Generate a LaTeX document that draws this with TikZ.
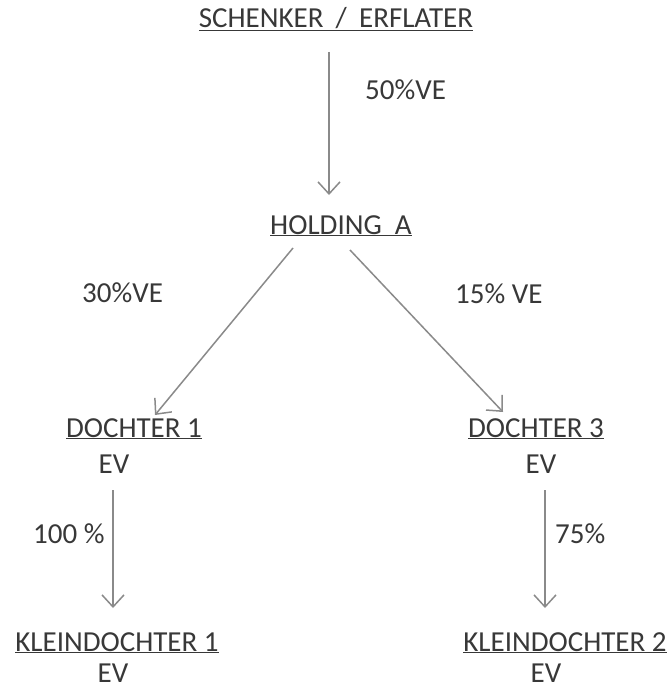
\documentclass[tikz,border=0pt]{standalone}
\usepackage{fontspec}
\setmainfont{Carlito}
\usetikzlibrary{arrows.meta}
\definecolor{inkgray}{HTML}{383838}
\definecolor{linegray}{HTML}{8A8A8A}
\begin{document}
\begin{tikzpicture}[x=1pt,y=-1pt,
  every node/.style={inner sep=0pt,anchor=base,text=inkgray,
    font=\fontsize{29}{34}\selectfont},
  entity/.style={},
  flow/.style={draw=linegray,line width=1.5pt,
    -{Straight Barb[length=12pt,width=22pt,line width=1.5pt]}},
  share/.style={anchor=base west}]
\useasboundingbox (0,0) rectangle (669,690);

% entities
\node[entity] (s)    at (336,28)  {\underline{SCHENKER\hspace{0.42em}/\hspace{0.42em}ERFLATER}};
\node[entity] (h)    at (341,234) {\underline{HOLDING\ \ A}};
\node[entity] (d1)   at (134,437) {\underline{DOCHTER 1}};
\node         (d1ev) at (114,473) {EV};
\node[entity] (d3)   at (536,437) {\underline{DOCHTER 3}};
\node         (d3ev) at (541,473) {EV};
\node[entity] (k1)   at (117,651) {\underline{KLEINDOCHTER 1}};
\node         (k1ev) at (113,682) {EV};
\node[entity] (k2)   at (565,651) {\underline{KLEINDOCHTER 2}};
\node         (k2ev) at (546,682) {EV};

% shares
\node[share] (l50)  at (365,100) {50\%VE};
\node[share] (l30)  at (82,302)  {30\%VE};
\node[share] (l15)  at (455,303) {15\% VE};
\node[share] (l100) at (33,543)  {100 \%};
\node[share] (l75)  at (555,543) {75\%};

% connectors
\draw[flow] ([shift={(-7,24)}]s.base)   -- ([shift={(-12,-39)}]h.base);
\draw[flow] ([shift={(-48,14)}]h.base)  -- ([shift={(21,-22)}]d1.base);
\draw[flow] ([shift={(9,16)}]h.base)    -- ([shift={(-33,-25)}]d3.base);
\draw[flow] ([shift={(-1,17)}]d1ev.base) -- ([shift={(-4,-43)}]k1.base);
\draw[flow] ([shift={(4,17)}]d3ev.base)  -- ([shift={(-20,-43)}]k2.base);
\end{tikzpicture}
\end{document}
